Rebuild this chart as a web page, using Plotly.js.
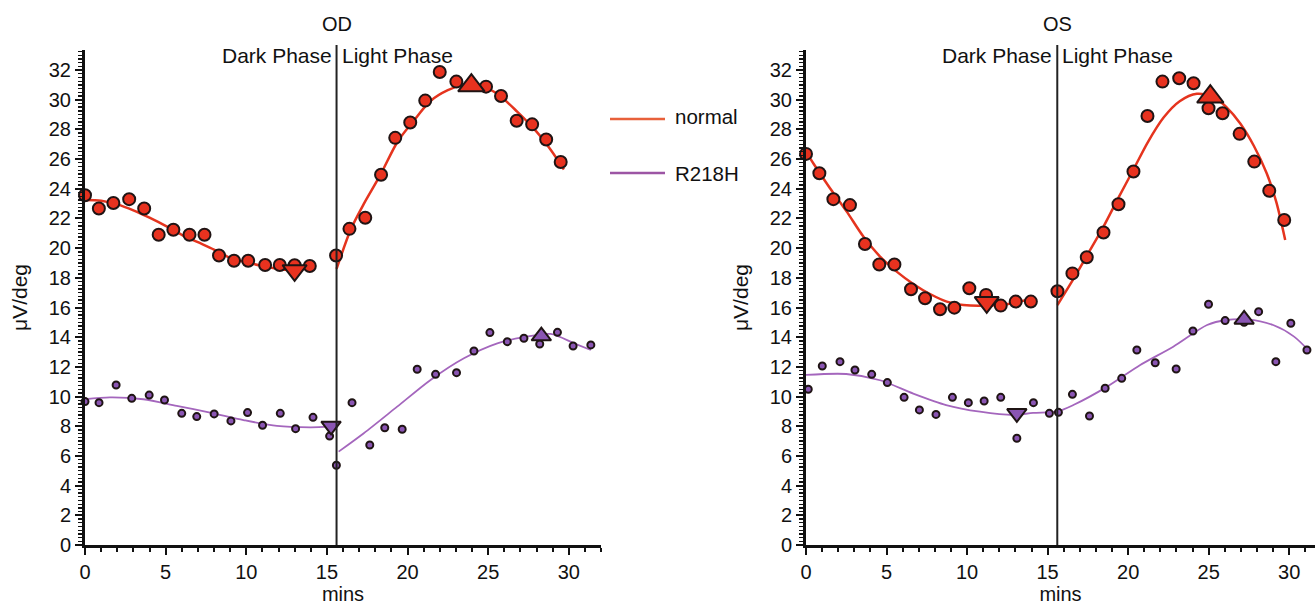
<!DOCTYPE html>
<html>
<head>
<meta charset="utf-8">
<script src="https://cdn.plot.ly/plotly-3.0.1.min.js"></script>
<style>
html,body{margin:0;padding:0;background:#fff;}
#chart{width:1315px;height:605px;}
</style>
</head>
<body>
<div id="chart"></div>
<script>
// ---------- OD (left) ----------
const odNormDarkX = [0,0.86,1.76,2.74,3.67,4.57,5.48,6.48,7.41,8.31,9.24,10.12,11.17,12.08,13.0,13.94];
const odNormDarkY = [23.56,22.67,23.04,23.3,22.67,20.9,21.24,20.9,20.9,19.5,19.15,19.15,18.86,18.86,18.85,18.8];
const odNormLightX = [15.57,16.4,17.38,18.36,19.24,20.17,21.1,22.0,23.03,24.87,25.8,26.77,27.73,28.6,29.5];
const odNormLightY = [19.5,21.3,22.05,24.95,27.43,28.47,29.94,31.87,31.22,30.88,30.25,28.58,28.34,27.32,25.8];
const odNormMin = [13.0, 18.5];
const odNormMax = [23.96, 30.95];
const odNormFitDarkX = [0,1,2,3,4,5,6,7,8,9,10,11,12,13];
const odNormFitDarkY = [23.25,23.2,22.95,22.55,22.05,21.5,20.9,20.4,19.9,19.35,19.05,18.8,18.6,18.5];
const odNormFitLightX = [15.6,16.5,17.3,18.3,19.4,20.4,21.4,22.5,23.5,24.3,25.5,26.8,28.0,28.9,29.7];
const odNormFitLightY = [18.6,21.3,23.0,24.9,27.2,28.6,29.9,30.65,31.0,31.0,30.45,29.2,27.85,26.6,25.3];

const odMutDarkX = [0,0.87,1.93,2.9,3.98,4.93,6.0,6.93,8.01,9.05,10.08,11.01,12.11,13.06,14.14,15.17,15.59];
const odMutDarkY = [9.66,9.59,10.78,9.88,10.1,9.77,8.87,8.65,8.83,8.36,8.92,8.07,8.87,7.84,8.6,7.34,5.37];
const odMutLightX = [16.56,17.66,18.59,19.67,20.6,21.74,23.04,24.12,25.11,26.19,27.22,28.2,29.3,30.27,31.37];
const odMutLightY = [9.59,6.74,7.9,7.8,11.84,11.5,11.61,13.07,14.31,13.7,13.93,13.54,14.33,13.41,13.48];
const odMutMin = [15.26, 8.02];
const odMutMax = [28.3, 14.08];
const odMutFitDarkX = [0,1.55,3.62,5.69,7.76,9.83,11.9,13.98,15.2];
const odMutFitDarkY = [9.82,9.95,9.82,9.37,8.92,8.42,8.02,7.93,7.97];
const odMutFitLightX = [15.73,17.29,19.36,21.43,23.5,25.57,27.22,28.88,30.33,31.37];
const odMutFitLightY = [6.29,7.53,9.32,11.12,12.58,13.59,14.0,14.22,13.59,13.14];

// ---------- OS (right) ----------
const osNormDarkX = [0,0.83,1.7,2.73,3.66,4.55,5.49,6.52,7.39,8.32,9.21,10.14,11.18,12.09,13.02,13.96];
const osNormDarkY = [26.35,25.05,23.3,22.9,20.28,18.9,18.9,17.23,16.62,15.88,15.99,17.3,16.85,16.13,16.4,16.4];
const osNormLightX = [15.61,16.54,17.43,18.47,19.4,20.33,21.2,22.13,23.17,24.06,24.99,25.86,26.92,27.83,28.76,29.69];
const osNormLightY = [17.1,18.3,19.39,21.05,22.96,25.16,28.9,31.22,31.45,31.11,29.43,29.09,27.7,25.83,23.87,21.9];
const osNormMin = [11.22, 16.35];
const osNormMax = [25.1, 30.2];
const osNormFitDarkX = [0,0.45,1.49,2.53,3.56,4.6,5.63,6.66,7.7,8.74,9.77,11.22,12.88,13.96];
const osNormFitDarkY = [26.5,25.72,24.04,22.46,20.78,19.43,18.42,17.59,16.91,16.4,16.17,16.13,16.29,16.62];
const osNormFitLightX = [15.61,16.7,17.6,18.47,19.4,20.33,21.2,22.2,23.2,24.27,25.3,26.1,26.96,27.8,28.6,29.2,29.75];
const osNormFitLightY = [16.17,18.1,19.8,21.45,23.4,25.3,27.1,28.8,29.9,30.4,30.2,29.5,28.4,26.9,25.05,23.1,20.55];

const osMutDarkX = [0.14,1.01,2.11,3.04,4.08,5.05,6.09,7.04,8.07,9.09,10.08,11.06,12.09,13.09,14.12,15.11];
const osMutDarkY = [10.49,12.06,12.35,11.79,11.5,10.94,9.95,9.1,8.8,9.95,9.59,9.7,9.95,7.19,9.59,8.87];
const osMutLightX = [15.67,16.54,17.6,18.57,19.6,20.54,21.68,22.98,24.02,24.99,26.02,27.2,28.1,29.17,30.1,31.1];
const osMutLightY = [8.94,10.15,8.69,10.56,11.23,13.14,12.28,11.86,14.42,16.22,15.12,15.0,15.72,12.35,14.94,13.14];
const osMutMin = [13.09, 8.87];
const osMutMax = [27.2, 15.2];
const osMutFitX = [0,2.5,4.6,6.66,8.7,10.8,12.88,14.1,15.6,16.6,18.7,20.75,22.8,24.9,26.1,27.4,29.0,30.3,31.3];
const osMutFitY = [11.46,11.52,11.1,10.2,9.43,8.98,8.76,8.9,9.0,9.43,10.67,12.13,13.36,14.82,15.16,15.2,14.82,14.04,13.0];

const phaseSplit = 15.6;
const seriesNames = ["normal", "R218H"];
const yTicks = [0,2,4,6,8,10,12,14,16,18,20,22,24,26,28,30,32];
const xTicks = [0,5,10,15,20,25,30];

// ---------- styles ----------
const RED = "#e8321f", RED_LINE = "#e5341e", PURPLE = "#8a55b3", PURPLE_LINE = "#a466bd", EDGE = "#1f1414";
const FONT = "Liberation Sans, Arial, Helvetica, sans-serif";

function pts(x, y, xa, ya, color, size){
  return {type:"scatter", mode:"markers", x:x, y:y, xaxis:xa, yaxis:ya, showlegend:false, cliponaxis:false,
    marker:{symbol:"circle", size:size, color:color, line:{color:EDGE, width:2}}, hoverinfo:"x+y"};
}
function fit(x, y, xa, ya, color, w, name){
  return {type:"scatter", mode:"lines", x:x, y:y, xaxis:xa, yaxis:ya, showlegend:false, name:name, cliponaxis:false,
    line:{color:color, width:w, shape:"spline", smoothing:0.8}, hoverinfo:"x+y"};
}
function tri(p, sym, xa, ya, color, size){
  return {type:"scatter", mode:"markers", x:[p[0]], y:[p[1]], xaxis:xa, yaxis:ya, showlegend:false, cliponaxis:false,
    marker:{symbol:sym, size:size, color:color, line:{color:EDGE, width:2}}, hoverinfo:"x+y"};
}

const traces = [
  fit(odNormFitDarkX, odNormFitDarkY, "x", "y", RED_LINE, 2.5, seriesNames[0]),
  fit(odNormFitLightX, odNormFitLightY, "x", "y", RED_LINE, 2.5, seriesNames[0]),
  fit(odMutFitDarkX, odMutFitDarkY, "x", "y", PURPLE_LINE, 1.8, seriesNames[1]),
  fit(odMutFitLightX, odMutFitLightY, "x", "y", PURPLE_LINE, 1.8, seriesNames[1]),
  pts(odNormDarkX, odNormDarkY, "x", "y", RED, 12),
  pts(odNormLightX, odNormLightY, "x", "y", RED, 12),
  pts(odMutDarkX, odMutDarkY, "x", "y", PURPLE, 7),
  pts(odMutLightX, odMutLightY, "x", "y", PURPLE, 7),
  tri(odNormMin, "triangle-down", "x", "y", RED, 21),
  tri(odNormMax, "triangle-up", "x", "y", RED, 23),
  tri(odMutMin, "triangle-down", "x", "y", PURPLE, 17),
  tri(odMutMax, "triangle-up", "x", "y", PURPLE, 17),

  fit(osNormFitDarkX, osNormFitDarkY, "x2", "y2", RED_LINE, 2.5, seriesNames[0]),
  fit(osNormFitLightX, osNormFitLightY, "x2", "y2", RED_LINE, 2.5, seriesNames[0]),
  fit(osMutFitX, osMutFitY, "x2", "y2", PURPLE_LINE, 1.8, seriesNames[1]),
  pts(osNormDarkX, osNormDarkY, "x2", "y2", RED, 12),
  pts(osNormLightX, osNormLightY, "x2", "y2", RED, 12),
  pts(osMutDarkX, osMutDarkY, "x2", "y2", PURPLE, 7),
  pts(osMutLightX, osMutLightY, "x2", "y2", PURPLE, 7),
  tri(osNormMin, "triangle-down", "x2", "y2", RED, 21),
  tri(osNormMax, "triangle-up", "x2", "y2", RED, 23),
  tri(osMutMin, "triangle-down", "x2", "y2", PURPLE, 17),
  tri(osMutMax, "triangle-up", "x2", "y2", PURPLE, 17)
];

const W = 1315, H = 605;
const yDom = [1 - 545/H, 1 - 50/H];

function xAxis(dom, range, anchor){
  return {domain:dom, range:range, anchor:anchor, showline:true, linewidth:3, linecolor:"#111",
    ticks:"outside", ticklen:7, tickwidth:2, tickcolor:"#111", tickvals:xTicks, ticktext:xTicks.map(String),
    minor:{dtick:1, tick0:0, ticks:"outside", ticklen:4, tickwidth:2, tickcolor:"#111"},
    showgrid:false, zeroline:false, tickfont:{family:FONT, size:20, color:"#111"},
    title:{text:"mins", font:{family:FONT, size:20, color:"#111"}, standoff:4}};
}
function yAxis(anchor){
  return {domain:yDom, range:[0,33.35], anchor:anchor, showline:true, linewidth:3, linecolor:"#111",
    ticks:"outside", ticklen:7, tickwidth:2, tickcolor:"#111", tickvals:yTicks, ticktext:yTicks.map(String),
    minor:{dtick:0.25, tick0:0, ticks:"outside", ticklen:4, tickwidth:1.3, tickcolor:"#111"},
    showgrid:false, zeroline:false, tickfont:{family:FONT, size:20, color:"#111"},
    title:{text:"μV/deg", font:{family:FONT, size:21, color:"#111"}, standoff:16}};
}

function leftPx(px){ return px / W; }
function topPx(py){ return 1 - py / H; }
const TXT = {family:FONT, size:21, color:"#111"};

const layout = {
  width:W, height:H, margin:{l:0, r:0, t:0, b:0},
  paper_bgcolor:"#fff", plot_bgcolor:"#fff", showlegend:false,
  font:{family:FONT, color:"#111"},
  xaxis: xAxis([85/W, 601/W], [0,32], "y"),
  yaxis: yAxis("x"),
  xaxis2: xAxis([806/W, 1], [0,31.6], "y2"),
  yaxis2: yAxis("x2"),
  shapes:[
    {type:"line", xref:"x", yref:"y domain", x0:phaseSplit, x1:phaseSplit, y0:0, y1:1.01, line:{color:"#222", width:2}, layer:"above"},
    {type:"line", xref:"x2", yref:"y2 domain", x0:phaseSplit, x1:phaseSplit, y0:0, y1:1.01, line:{color:"#222", width:2}, layer:"above"},
    {type:"line", xref:"paper", yref:"paper", x0:leftPx(610), x1:leftPx(665), y0:topPx(119), y1:topPx(119), line:{color:"#e8603a", width:2.5}},
    {type:"line", xref:"paper", yref:"paper", x0:leftPx(610), x1:leftPx(665), y0:topPx(173), y1:topPx(173), line:{color:"#9c55a4", width:2.5}}
  ],
  annotations:[
    {text:"OD", xref:"x", yref:"paper", x:phaseSplit, y:topPx(24), yanchor:"middle", showarrow:false, font:{family:FONT, size:20, color:"#111"}},
    {text:"OS", xref:"x2", yref:"paper", x:phaseSplit, y:topPx(24), yanchor:"middle", showarrow:false, font:{family:FONT, size:20, color:"#111"}},
    {text:"Dark Phase", xref:"x", yref:"paper", x:phaseSplit, xanchor:"right", xshift:-3, y:topPx(56), yanchor:"middle", showarrow:false, font:TXT},
    {text:"Light Phase", xref:"x", yref:"paper", x:phaseSplit, xanchor:"left", xshift:3, y:topPx(56), yanchor:"middle", showarrow:false, font:TXT},
    {text:"Dark Phase", xref:"x2", yref:"paper", x:phaseSplit, xanchor:"right", xshift:-3, y:topPx(56), yanchor:"middle", showarrow:false, font:TXT},
    {text:"Light Phase", xref:"x2", yref:"paper", x:phaseSplit, xanchor:"left", xshift:3, y:topPx(56), yanchor:"middle", showarrow:false, font:TXT},
    {text:seriesNames[0], xref:"paper", yref:"paper", x:leftPx(673), xanchor:"left", y:topPx(117), yanchor:"middle", showarrow:false, font:{family:FONT, size:20.5, color:"#111"}},
    {text:seriesNames[1], xref:"paper", yref:"paper", x:leftPx(673), xanchor:"left", y:topPx(173), yanchor:"middle", showarrow:false, font:{family:FONT, size:20.5, color:"#111"}}
  ]
};

Plotly.newPlot("chart", traces, layout, {displayModeBar:false, staticPlot:true});
</script>
</body>
</html>
